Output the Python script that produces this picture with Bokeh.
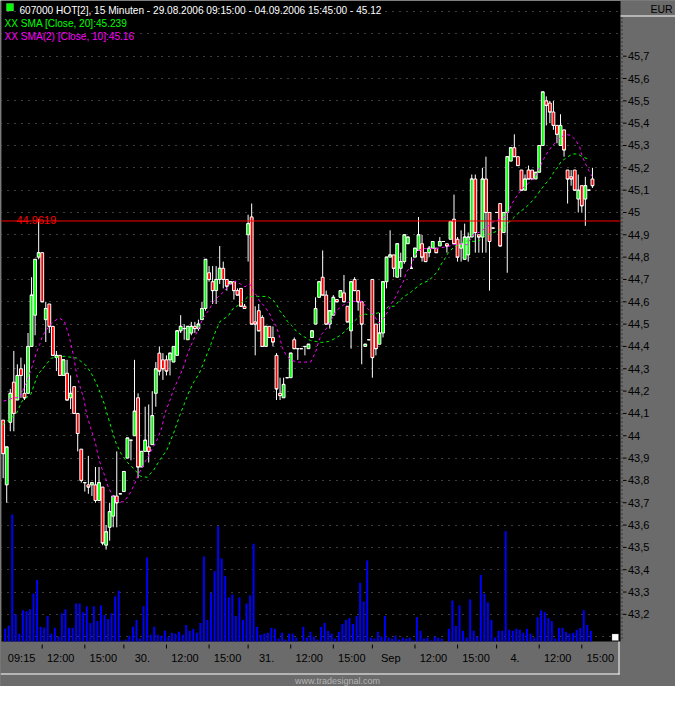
from bokeh.plotting import figure
from bokeh.models import Range1d, FixedTicker, Label, BoxAnnotation, ColumnDataSource, Grid
from bokeh.transform import dodge
from bokeh.core.properties import value
from bokeh.embed import file_html
from bokeh.resources import INLINE

# ---------------- data (15-minute bars, 29.08.2006 09:15 - 04.09.2006 15:45) ----------------
open_ = [
    44.07, 43.78, 44.06, 44.24, 44.16, 44.30, 44.19, 44.19, 44.40, 44.54,
    44.80, 44.82, 44.52, 44.59, 44.49, 44.35, 44.36, 44.27, 44.28, 44.17,
    44.22, 44.10, 43.94, 43.79, 43.78, 43.78, 43.78, 43.71, 43.77, 43.51,
    43.59, 43.64, 43.73, 43.74, 43.75, 43.90, 43.98, 44.00, 44.17, 43.86,
    43.93, 43.95, 43.96, 44.19, 44.37, 44.34, 44.34, 44.34, 44.33, 44.36,
    44.47, 44.48, 44.43, 44.46, 44.49, 44.48, 44.52, 44.57, 44.73, 44.69,
    44.65, 44.70, 44.75, 44.70, 44.68, 44.69, 44.65, 44.66, 44.58, 44.90,
    44.98, 44.51, 44.56, 44.53, 44.40, 44.49, 44.44, 44.36, 44.19, 44.17,
    44.26, 44.26, 44.43, 44.39, 44.39, 44.40, 44.39, 44.44, 44.50, 44.62,
    44.71, 44.63, 44.50, 44.54, 44.61, 44.62, 44.64, 44.58, 44.47, 44.70,
    44.65, 44.60, 44.40, 44.43, 44.70, 44.50, 44.41, 44.46, 44.69, 44.80,
    44.81, 44.71, 44.75, 44.78, 44.86, 44.75, 44.80, 44.83, 44.86, 44.82,
    44.82, 44.84, 44.84, 44.85, 44.87, 44.86, 44.88, 44.97, 44.88, 44.84,
    44.79, 44.81, 44.89, 45.15, 44.90, 44.89, 45.15, 45.00, 44.93, 45.00,
    45.04, 44.91, 45.00, 45.23, 45.29, 45.25, 45.19, 45.10, 45.19, 45.19,
    45.15, 45.18, 45.30, 45.50, 45.49, 45.45, 45.39, 45.30, 45.37, 45.19,
    45.16, 45.19, 45.06, 45.12, 45.06, 45.10, 45.15]
high = [
    44.07, 43.95, 44.21, 44.38, 44.32, 44.35, 44.32, 44.46, 44.71, 44.79,
    44.97, 44.82, 44.60, 44.59, 44.49, 44.38, 44.36, 44.34, 44.34, 44.27,
    44.22, 44.10, 43.94, 43.79, 43.91, 43.79, 43.86, 43.86, 43.77, 43.60,
    43.70, 43.73, 43.93, 43.74, 43.84, 43.99, 43.98, 44.34, 44.19, 43.93,
    44.13, 44.14, 44.20, 44.33, 44.40, 44.37, 44.36, 44.37, 44.40, 44.47,
    44.54, 44.50, 44.49, 44.51, 44.51, 44.52, 44.60, 44.79, 44.76, 44.76,
    44.76, 44.85, 44.78, 44.70, 44.69, 44.69, 44.66, 44.66, 44.59, 44.99,
    45.04, 44.58, 44.59, 44.54, 44.49, 44.49, 44.49, 44.37, 44.26, 44.26,
    44.26, 44.37, 44.44, 44.39, 44.39, 44.40, 44.41, 44.47, 44.62, 44.69,
    44.83, 44.65, 44.56, 44.63, 44.61, 44.65, 44.72, 44.58, 44.69, 44.71,
    44.65, 44.60, 44.41, 44.43, 44.70, 44.50, 44.55, 44.69, 44.80, 44.92,
    44.81, 44.86, 44.82, 44.90, 44.89, 44.80, 44.84, 44.98, 44.90, 44.82,
    44.85, 44.87, 44.84, 44.89, 44.87, 44.86, 44.96, 45.08, 44.89, 44.92,
    44.95, 44.91, 45.17, 45.17, 44.90, 45.20, 45.25, 45.00, 44.93, 45.00,
    45.04, 45.00, 45.25, 45.29, 45.35, 45.25, 45.19, 45.17, 45.21, 45.19,
    45.18, 45.30, 45.54, 45.52, 45.50, 45.50, 45.39, 45.44, 45.37, 45.19,
    45.19, 45.19, 45.17, 45.12, 45.16, 45.10, 45.20]
low = [
    43.81, 43.70, 44.02, 44.02, 44.16, 44.17, 44.16, 44.19, 44.40, 44.45,
    44.79, 44.60, 44.42, 44.46, 44.36, 44.29, 44.27, 44.27, 44.16, 44.12,
    44.10, 43.93, 43.79, 43.75, 43.74, 43.73, 43.70, 43.71, 43.51, 43.49,
    43.53, 43.59, 43.59, 43.74, 43.75, 43.90, 43.89, 44.00, 43.81, 43.86,
    43.93, 43.88, 43.96, 44.13, 44.27, 44.25, 44.27, 44.27, 44.33, 44.36,
    44.46, 44.43, 44.43, 44.45, 44.46, 44.47, 44.52, 44.56, 44.69, 44.59,
    44.59, 44.68, 44.66, 44.65, 44.68, 44.61, 44.63, 44.58, 44.57, 44.78,
    44.50, 44.36, 44.47, 44.40, 44.40, 44.44, 44.40, 44.16, 44.16, 44.17,
    44.26, 44.26, 44.39, 44.34, 44.39, 44.36, 44.39, 44.44, 44.50, 44.62,
    44.63, 44.50, 44.48, 44.54, 44.60, 44.62, 44.60, 44.51, 44.39, 44.65,
    44.56, 44.32, 44.40, 44.43, 44.26, 44.36, 44.41, 44.44, 44.66, 44.80,
    44.71, 44.71, 44.71, 44.77, 44.86, 44.75, 44.80, 44.83, 44.78, 44.78,
    44.80, 44.84, 44.82, 44.85, 44.87, 44.82, 44.88, 44.86, 44.78, 44.78,
    44.79, 44.78, 44.89, 44.82, 44.82, 44.82, 44.82, 44.65, 44.93, 45.00,
    44.85, 44.91, 44.73, 45.23, 45.25, 45.21, 45.10, 45.10, 45.15, 45.15,
    45.15, 45.18, 45.30, 45.39, 45.40, 45.37, 45.31, 45.30, 45.25, 45.04,
    45.12, 45.10, 45.00, 45.00, 44.94, 45.10, 45.11]
close = [
    43.92, 43.95, 44.19, 44.10, 44.27, 44.27, 44.17, 44.40, 44.63, 44.79,
    44.82, 44.60, 44.57, 44.49, 44.36, 44.36, 44.27, 44.34, 44.16, 44.19,
    44.10, 44.01, 43.80, 43.79, 43.77, 43.79, 43.71, 43.79, 43.52, 43.57,
    43.66, 43.73, 43.70, 43.74, 43.84, 43.99, 43.98, 44.11, 43.86, 43.93,
    43.98, 43.93, 44.09, 44.30, 44.29, 44.30, 44.29, 44.37, 44.40, 44.47,
    44.49, 44.48, 44.49, 44.49, 44.48, 44.50, 44.57, 44.79, 44.70, 44.65,
    44.70, 44.75, 44.70, 44.67, 44.69, 44.65, 44.63, 44.58, 44.57, 44.95,
    44.50, 44.50, 44.47, 44.40, 44.49, 44.44, 44.42, 44.21, 44.18, 44.23,
    44.26, 44.37, 44.39, 44.39, 44.39, 44.40, 44.41, 44.47, 44.57, 44.69,
    44.63, 44.50, 44.56, 44.62, 44.60, 44.65, 44.60, 44.51, 44.69, 44.65,
    44.60, 44.50, 44.41, 44.43, 44.35, 44.39, 44.46, 44.69, 44.80, 44.81,
    44.75, 44.86, 44.78, 44.90, 44.89, 44.75, 44.84, 44.90, 44.80, 44.78,
    44.84, 44.87, 44.82, 44.87, 44.87, 44.85, 44.96, 44.86, 44.80, 44.86,
    44.89, 44.89, 45.15, 44.91, 44.89, 45.15, 45.00, 44.87, 44.93, 45.00,
    44.85, 45.00, 45.25, 45.29, 45.25, 45.21, 45.10, 45.15, 45.15, 45.15,
    45.18, 45.30, 45.54, 45.48, 45.45, 45.39, 45.35, 45.39, 45.28, 45.15,
    45.15, 45.10, 45.10, 45.03, 45.12, 45.10, 45.12]
volume = [
    13, 16, 130, 28, 8, 32, 31, 33, 49, 63, 15, 14, 26, 8, 14, 5, 29, 33, 14, 14,
    39, 39, 30, 36, 19, 36, 21, 37, 27, 23, 29, 46, 52, 1, 2, 6, 15, 22, 3, 36,
    86, 7, 15, 7, 6, 11, 5, 9, 8, 10, 7, 17, 11, 13, 9, 19, 87, 22, 50, 72,
    118, 85, 67, 45, 48, 26, 45, 22, 39, 47, 100, 15, 7, 8, 9, 14, 13, 3, 9, 2,
    8, 8, 4, 0, 15, 4, 10,
    5, 2, 15, 19, 11, 8, 3, 10, 18, 22, 24, 18, 26, 60, 41, 83, 4, 3, 10, 5,
    26, 4, 3, 6, 2, 4, 3, 4, 1, 25, 11, 3, 4, 1, 5, 4, 3, 0, 13, 42,
    16, 37, 11, 4, 43, 11, 5, 68, 49, 40, 22, 4, 11, 11, 113, 12, 11, 13, 12, 9,
    13, 8, 4, 25, 32, 30, 24, 21, 3, 14, 14, 10, 8, 9, 12, 14, 32, 17, 11, 0]

# SMA [Close, 20] (green): bar position, value
sma20_bar = [-0.2, 3.7, 5.3, 7.8, 9.7, 12.2, 13.6, 17.2, 20.7, 23.2, 24.6, 26.3, 27.4, 28.5, 29.6,
             30.9, 31.8, 33.1, 35.1, 37.0, 38.7, 40.6, 42.5, 44.2, 46.1, 48.0, 49.7, 51.1, 52.4,
             53.8, 55.2, 57.1, 58.5, 59.9, 61.2, 63.4, 64.8, 66.2, 67.6, 69.0, 71.7, 74.5, 75.8,
             76.9, 77.8, 79.1, 80.0, 81.4, 82.7, 84.7, 86.6, 88.2, 89.6, 91.6, 92.9, 94.8, 96.5,
             98.4, 100.4, 102.0, 103.4, 105.3, 107.2, 108.6, 110.3, 111.4, 113.0, 115.0, 116.3,
             117.7, 119.6, 121.0, 122.4, 123.2, 124.6, 125.4, 126.8, 128.2, 129.6, 130.9, 133.7,
             136.2, 137.8, 139.8, 142.5, 143.9, 145.3, 147.2, 148.6, 150.2, 151.6, 152.7, 154.1,
             154.9, 156.3, 157.1, 159.0, 160.4, 161.8, 163.2, 165.4]
sma20_val = [44.050, 44.098, 44.155, 44.186, 44.273, 44.321, 44.348, 44.356, 44.348, 44.317,
             44.286, 44.234, 44.190, 44.142, 44.081, 44.011, 43.967, 43.923, 43.879, 43.849,
             43.818, 43.814, 43.849, 43.893, 43.936, 44.011, 44.089, 44.146, 44.199, 44.243,
             44.278, 44.352, 44.409, 44.470, 44.514, 44.536, 44.571, 44.584, 44.602, 44.624,
             44.624, 44.624, 44.610, 44.593, 44.562, 44.536, 44.514, 44.492, 44.466, 44.444,
             44.426, 44.422, 44.418, 44.422, 44.431, 44.448, 44.470, 44.505, 44.536, 44.545,
             44.540, 44.549, 44.558, 44.580, 44.580, 44.602, 44.624, 44.645, 44.663, 44.680,
             44.693, 44.711, 44.737, 44.763, 44.798, 44.820, 44.842, 44.855, 44.869, 44.873,
             44.869, 44.899, 44.908, 44.921, 44.956, 44.978, 45.000, 45.022, 45.044, 45.074,
             45.105, 45.127, 45.153, 45.175, 45.205, 45.227, 45.249, 45.262, 45.262, 45.249,
             45.236]
# SMA(2) [Close, 10] (magenta)
sma10_bar = [0.1, 2.6, 4.8, 7.0, 8.3, 9.4, 10.3, 11.1, 13.0, 14.4, 15.8, 17.2, 18.0, 18.8, 19.4,
             19.9, 20.7, 21.8, 22.7, 23.5, 24.6, 26.0, 26.8, 27.6, 28.7, 29.6, 31.0, 32.3, 34.0,
             35.6, 37.0, 38.4, 40.0, 41.4, 43.3, 44.7, 45.5, 46.9, 48.0, 49.4, 50.8, 52.1, 53.5,
             54.9, 56.3, 57.9, 59.3, 60.7, 62.1, 64.0, 65.4, 66.8, 68.1, 69.5, 70.3, 71.4, 72.3,
             73.6, 75.0, 75.8, 76.9, 77.8, 78.6, 79.7, 81.1, 82.7, 84.7, 86.6, 88.0, 88.8, 89.6,
             91.0, 92.4, 93.7, 95.7, 97.6, 99.3, 101.2, 102.0, 104.0, 105.9, 107.2, 108.6, 109.4,
             110.8, 111.6, 112.8, 113.6, 115.0, 115.8, 116.9, 118.3, 121.8, 125.2, 126.8, 128.7,
             130.7, 132.3, 134.2, 136.2, 137.8, 139.2, 141.1, 142.5, 143.3, 144.7, 146.1, 148.0,
             149.9, 151.3, 152.1, 152.9, 154.4, 155.7, 157.1, 158.5, 159.9, 161.3, 162.4, 163.2,
             164.0, 165.1, 165.9]
sma10_val = [44.155, 44.168, 44.173, 44.256, 44.317, 44.374, 44.409, 44.448, 44.492, 44.514,
             44.527, 44.514, 44.475, 44.431, 44.387, 44.352, 44.273, 44.212, 44.168, 44.098,
             44.037, 43.967, 43.906, 43.862, 43.818, 43.770, 43.726, 43.704, 43.704, 43.739,
             43.783, 43.836, 43.884, 43.923, 43.980, 44.037, 44.098, 44.155, 44.208, 44.256,
             44.308, 44.374, 44.426, 44.475, 44.527, 44.562, 44.602, 44.624, 44.645, 44.680,
             44.693, 44.680, 44.667, 44.680, 44.650, 44.628, 44.602, 44.580, 44.549, 44.518,
             44.492, 44.448, 44.396, 44.361, 44.339, 44.330, 44.330, 44.330, 44.374, 44.418,
             44.453, 44.479, 44.518, 44.558, 44.584, 44.602, 44.602, 44.602, 44.580, 44.549,
             44.505, 44.527, 44.562, 44.593, 44.628, 44.658, 44.693, 44.733, 44.763, 44.798,
             44.829, 44.838, 44.838, 44.847, 44.855, 44.860, 44.855, 44.899, 44.912, 44.934,
             44.956, 44.965, 44.978, 45.008, 45.039, 45.074, 45.105, 45.131, 45.162, 45.205,
             45.236, 45.258, 45.293, 45.315, 45.337, 45.350, 45.345, 45.324, 45.293, 45.249,
             45.219, 45.184, 45.162]

hline_level = 44.9619
hline_text = "44.9619"
price_ticks = [43.2, 43.3, 43.4, 43.5, 43.6, 43.7, 43.8, 43.9, 44.0, 44.1, 44.2, 44.3, 44.4,
               44.5, 44.6, 44.7, 44.8, 44.9, 45.0, 45.1, 45.2, 45.3, 45.4, 45.5, 45.6, 45.7]
price_tick_labels = ["43,2", "43,3", "43,4", "43,5", "43,6", "43,7", "43,8", "43,9", "44",
                     "44,1", "44,2", "44,3", "44,4", "44,5", "44,6", "44,7", "44,8", "44,9",
                     "45", "45,1", "45,2", "45,3", "45,4", "45,5", "45,6", "45,7"]
grid_levels = [43.1] + price_ticks + [45.8, 45.9]
time_tick_bars = [11, 23, 34, 46, 58, 69, 81, 93, 104, 116, 128, 139, 151, 163]
time_label_bars = [0, 11, 23, 34, 46, 58, 69, 81, 93, 104, 116, 128, 139, 151, 163]
time_labels = ["09:15", "12:00", "15:00", "30.", "12:00", "15:00", "31.", "12:00", "15:00",
               "Sep", "12:00", "15:00", "4.", "12:00", "15:00"]

header_main = "607000  HOT[2], 15 Minuten - 29.08.2006 09:15:00 - 04.09.2006 15:45:00 - 45.12"
header_sma20 = "XX SMA [Close, 20]:45.239"
header_sma10 = "XX SMA(2) [Close, 10]:45.16"
currency = "EUR"
footer = "www.tradesignal.com"

# ---------------- layout (canvas pixels, top-left origin) ----------------
W, H = 675, 686
CH_L, CH_R, CH_B = 1, 620, 641          # price chart area inside the canvas
X_LO, X_HI = -0.47, 173.9               # bar range shown in the chart area
Y_LO, Y_HI = 43.0785, 45.9494           # price range shown in the chart area
VOL_TOP = 656                           # volume value at the top of the chart area
GRAY = "#6b6b6b"
FONT = "Liberation Sans"
LABEL_SHIFT = 5.2                       # time labels sit in the gap right of their tick

bx = (X_HI - X_LO) / (CH_R - CH_L)
py = (Y_HI - Y_LO) / CH_B


def cx(px):
    return X_LO + (px - CH_L) * bx


def cy(px):
    return Y_HI - px * py


n = len(close)
src = ColumnDataSource(dict(
    i=list(range(n)), open=open_, high=high, low=low, close=close, volume=volume,
    top=[max(o, c) for o, c in zip(open_, close)],
    bottom=[min(o, c) for o, c in zip(open_, close)],
    col=["#00ff00" if c > o else ("#ff0000" if c < o else "#ffffff") for o, c in zip(open_, close)],
))

p = figure(width=W, height=H, output_backend="svg", toolbar_location=None,
           x_range=Range1d(cx(0), cx(W)), y_range=Range1d(cy(H), cy(0)),
           x_axis_location=None, y_axis_location=None, min_border=0,
           background_fill_color="#000000", border_fill_color=GRAY,
           outline_line_color=None)
# drop the default grids; the chart draws its own dotted price grid
p.center = [r for r in p.center if not isinstance(r, Grid)]
p.extra_y_ranges = {"vol": Range1d(-(H - CH_B) * VOL_TOP / CH_B, VOL_TOP)}

# dotted price grid
p.add_layout(Grid(dimension=1, ticker=FixedTicker(ticks=grid_levels),
                  grid_line_color="#7a7a7a", grid_line_dash="1 6"))

# gray scale panels (right price scale, bottom time scale, left edge)
for l, r, b, t in [(CH_R, W, 0, H), (0, W, 0, H - CH_B), (0, CH_L, 0, H)]:
    p.add_layout(BoxAnnotation(left=l, right=r, bottom=b, top=t, level="underlay",
                               left_units="screen", right_units="screen",
                               bottom_units="screen", top_units="screen",
                               fill_color=GRAY, fill_alpha=1, line_color=None))

# volume
p.vbar(x=dodge("i", 0.55, range=p.x_range), top="volume", bottom=0, width=0.55,
       source=src, y_range_name="vol", fill_color="#0000ff", line_color=None)

# candles
p.segment(x0="i", y0="low", x1="i", y1="high", source=src, line_color="white", line_width=1)
p.vbar(x="i", top="top", bottom="bottom", width=0.8, source=src,
       fill_color="col", line_color="white", line_width=1)
p.segment(x0=dodge("i", -0.4, range=p.x_range), y0="close", x1=dodge("i", 0.4, range=p.x_range),
          y1="close", source=src, line_color="white", line_width=1)

# moving averages
p.line(sma20_bar, sma20_val, line_color="#00ff00", line_dash="3 3", line_width=1)
p.line(sma10_bar, sma10_val, line_color="#ff00ff", line_dash="3 3", line_width=1)

# horizontal line
p.segment(x0=[cx(CH_L)], x1=[X_HI], y0=[hline_level], y1=[hline_level],
          line_color="#ff0000", line_width=1)

# price scale (right)
p.segment(x0=[cx(621.5)], x1=[cx(621.5)], y0=[cy(17)], y1=[cy(CH_B)],
          line_color="#000000", line_dash="1 3")
p.segment(x0=[cx(622.5)] * len(price_ticks), x1=[cx(626)] * len(price_ticks),
          y0=price_ticks, y1=price_ticks, line_color="#000000")
p.text(x=[cx(627.5)] * len(price_ticks), y=price_ticks, text=price_tick_labels,
       text_font=value(FONT), text_font_size="11px", text_color="#000000",
       text_align="left", text_baseline="middle")

# time scale (bottom)
p.segment(x0=time_tick_bars, x1=time_tick_bars, y0=[cy(644)] * len(time_tick_bars),
          y1=[cy(648)] * len(time_tick_bars), line_color="#000000")
p.text(x=[b + LABEL_SHIFT for b in time_label_bars], y=[cy(657)] * len(time_label_bars),
       text=time_labels, text_font=value(FONT), text_font_size="11px", text_color="#000000",
       text_align="center", text_baseline="middle")

# header
p.add_layout(BoxAnnotation(left=6, right=13, bottom=H - 10.5, top=H - 3,
                           left_units="screen", right_units="screen",
                           bottom_units="screen", top_units="screen",
                           fill_color="#00ff00", fill_alpha=1, line_color="#c8c8c8", line_width=1))
for txt, x, y, col in [(header_main, 19, 9.8, "#ffffff"),
                       (header_sma20, 4, 23.3, "#00ff00"),
                       (header_sma10, 4, 36.3, "#ff00ff")]:
    p.add_layout(Label(x=x, y=H - y, x_units="screen", y_units="screen", text=txt,
                       text_color=col, text_font=FONT, text_font_size="10.1px",
                       text_baseline="middle"))
p.add_layout(Label(x=16, y=H - 219.5, x_units="screen", y_units="screen", text=hline_text,
                   text_color="#ff0000", text_font=FONT, text_font_size="11px",
                   text_baseline="alphabetic"))

# right panel header, white frame lines, resize mark, footer
p.add_layout(Label(x=661, y=H - 8.8, x_units="screen", y_units="screen", text=currency,
                   text_color="#000000", text_font=FONT, text_font_size="10.5px",
                   text_align="center", text_baseline="middle"))
for l, r, b, t in [(CH_R, W, H - 16, H - 15),        # line under EUR
                   (0, CH_R - 1, H - 674, H - 673),   # bottom frame line
                   (CH_R - 2, CH_R - 1, H - 674, H - CH_B)]:  # right frame line
    p.add_layout(BoxAnnotation(left=l, right=r, bottom=b, top=t,
                               left_units="screen", right_units="screen",
                               bottom_units="screen", top_units="screen",
                               fill_color="#ffffff", fill_alpha=1, line_color=None))
p.add_layout(BoxAnnotation(left=611.5, right=618, bottom=H - 640, top=H - 633.5,
                           left_units="screen", right_units="screen",
                           bottom_units="screen", top_units="screen",
                           fill_color="#ffffff", fill_alpha=1, line_color="#808080"))
p.add_layout(Label(x=337, y=H - 680, x_units="screen", y_units="screen", text=footer,
                   text_color="#b4b4b4", text_font=FONT, text_font_size="9px",
                   text_align="center", text_baseline="middle"))

open("out.html", "w").write(file_html(p, INLINE))
